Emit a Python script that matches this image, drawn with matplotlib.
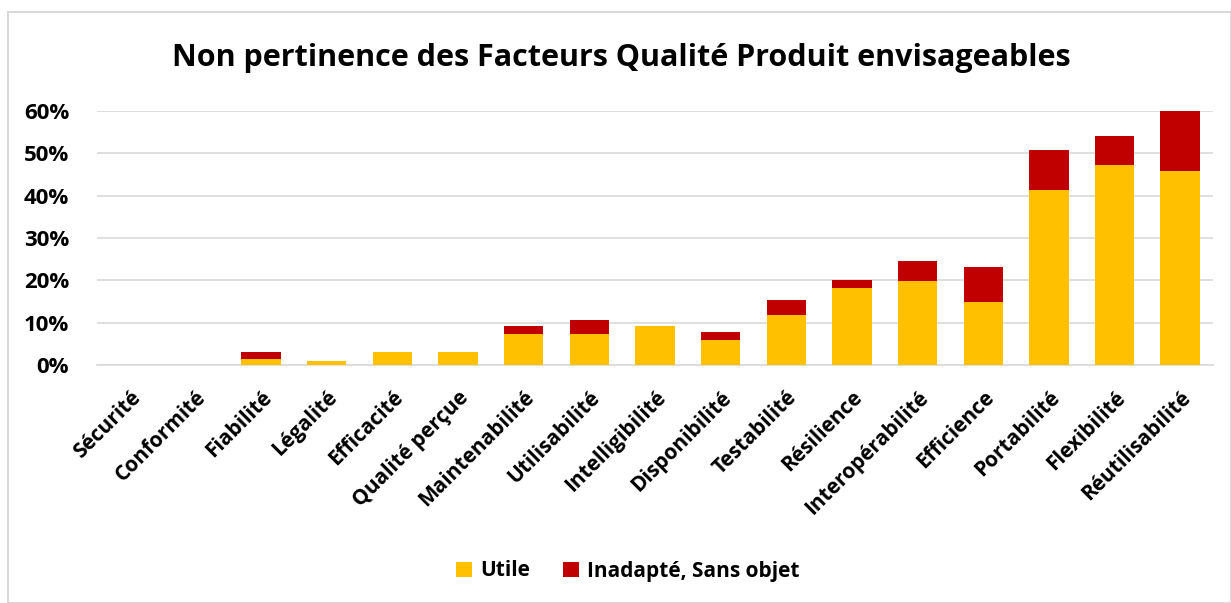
import matplotlib
matplotlib.use("Agg")
import matplotlib.pyplot as plt
from matplotlib.ticker import PercentFormatter
from matplotlib.patches import Rectangle

categories = ["Sécurité", "Conformité", "Fiabilité", "Légalité", "Efficacité",
              "Qualité perçue", "Maintenabilité", "Utilisabilité", "Intelligibilité",
              "Disponibilité", "Testabilité", "Résilience", "Interopérabilité",
              "Efficience", "Portabilité", "Flexibilité", "Réutilisabilité"]
utile = [0.0, 0.0, 1.4, 0.95, 3.1, 3.1, 7.3, 7.3, 9.1, 5.8, 11.8, 18.3, 19.8, 15.0, 41.3, 47.3, 45.8]
inadapte = [0.0, 0.0, 1.7, 0.0, 0.0, 0.0, 1.8, 3.4, 0.0, 1.9, 3.5, 1.7, 4.8, 8.1, 9.6, 6.7, 14.2]
yticks = [0, 10, 20, 30, 40, 50, 60]

plt.rcParams['font.family'] = ['Open Sans', 'DejaVu Sans']

fig = plt.figure(figsize=(12.31, 6.03), dpi=100)
ax = fig.add_axes([97/1231, 1-365/603, (1213-97)/1231, (365-111)/603])

x = range(len(categories))
ax.bar(x, utile, width=0.6, color="#FFC000", label="Utile", zorder=3)
ax.bar(x, inadapte, width=0.6, bottom=utile, color="#C00000",
       label="Inadapté, Sans objet", zorder=3)

ax.set_xlim(-0.5, len(categories)-0.5)
ax.set_ylim(0, 60)
ax.set_yticks(yticks)
ax.yaxis.set_major_formatter(PercentFormatter(decimals=0))
ax.grid(axis='y', color='#D9D9D9', linewidth=1.2, zorder=0)
for s in ['top', 'right', 'left']:
    ax.spines[s].set_visible(False)
ax.spines['bottom'].set_color('#D9D9D9')
ax.spines['bottom'].set_linewidth(1.2)
ax.tick_params(axis='both', length=0)
ax.tick_params(axis='y', pad=20)
ax.tick_params(axis='x', pad=16)
ax.set_xticks(list(x))
ax.set_xticklabels(categories, rotation=45, ha='right', rotation_mode='anchor',
                   fontsize=15, fontweight='bold')
for lab in ax.get_yticklabels():
    lab.set_fontsize(16)
    lab.set_fontweight('bold')

fig.text(0.505, 1-58/603, "Non pertinence des Facteurs Qualité Produit envisageables",
         ha='center', va='center', fontsize=22, fontweight='bold')

fig.legend(loc='center', bbox_to_anchor=(0.51, 1-571/603), ncol=2, frameon=False,
           prop={'size': 15, 'weight': 'bold'}, handlelength=0.75, handleheight=0.75,
           handletextpad=0.4, columnspacing=1.6)

fig.patches.append(Rectangle((8/1231, 0), 1 - 8/1231, 1 - 12/603, transform=fig.transFigure,
                             fill=False, edgecolor='#D9D9D9', linewidth=1.5))

fig.savefig("out.png", dpi=100)
